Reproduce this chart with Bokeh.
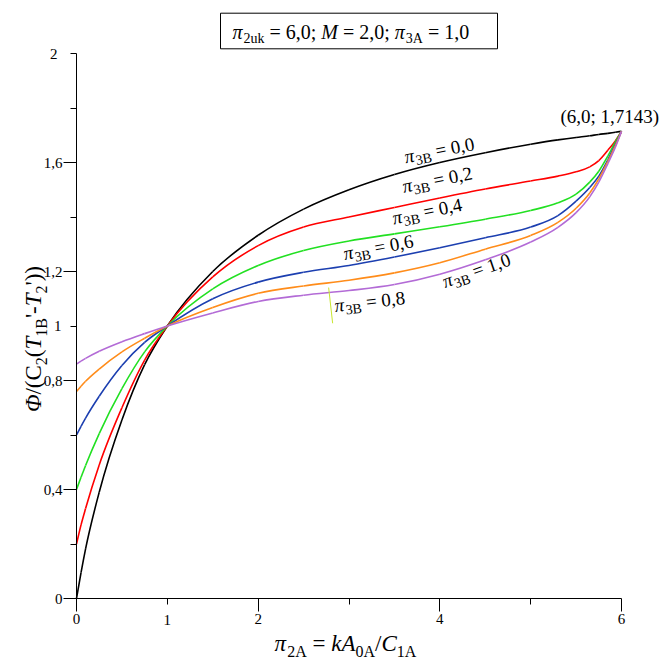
import math
from bokeh.plotting import figure
from bokeh.models import Label, FixedTicker, BoxAnnotation, Range1d, CustomJSTickFormatter
from bokeh.embed import file_html
from bokeh.resources import INLINE

# ---------------- data ----------------
x_vals = [0, 0.05, 0.1, 0.25, 0.5, 0.75, 1, 1.5, 2, 2.5, 3, 3.5, 4, 4.5, 5,
          5.3, 5.5, 5.65, 5.75, 5.85, 5.93, 6]
pi3b_00 = [0, 0.095, 0.182, 0.39, 0.655, 0.858, 1.0, 1.2, 1.333, 1.429, 1.5, 1.556,
           1.6, 1.636, 1.667, 1.683, 1.692, 1.698, 1.703, 1.707, 1.711, 1.7143]
pi3b_02 = [0.2, 0.27, 0.33, 0.49, 0.70, 0.875, 1.0, 1.18, 1.295, 1.363, 1.40, 1.435,
           1.47, 1.503, 1.532, 1.55, 1.566, 1.584, 1.607, 1.645, 1.678, 1.7143]
pi3b_04 = [0.4, 0.445, 0.488, 0.605, 0.77, 0.905, 1.0, 1.136, 1.222, 1.277, 1.312, 1.338,
           1.364, 1.392, 1.424, 1.452, 1.484, 1.528, 1.568, 1.624, 1.674, 1.7143]
pi3b_06 = [0.6, 0.632, 0.662, 0.742, 0.855, 0.94, 1.0, 1.10, 1.161, 1.197, 1.222, 1.253,
           1.287, 1.324, 1.363, 1.405, 1.458, 1.508, 1.55, 1.61, 1.665, 1.7143]
pi3b_08 = [0.76, 0.779, 0.797, 0.842, 0.905, 0.955, 1.0, 1.068, 1.12, 1.147, 1.168, 1.195,
           1.232, 1.282, 1.332, 1.38, 1.432, 1.488, 1.54, 1.604, 1.66, 1.7143]
pi3b_10 = [0.86, 0.871, 0.881, 0.907, 0.942, 0.972, 1.0, 1.048, 1.09, 1.113, 1.13, 1.152,
           1.19, 1.243, 1.308, 1.362, 1.416, 1.474, 1.528, 1.596, 1.654, 1.7143]
series_names = ["0,0", "0,2", "0,4", "0,6", "0,8", "1,0"]
series_values = [pi3b_00, pi3b_02, pi3b_04, pi3b_06, pi3b_08, pi3b_10]
series_colors = ["#000000", "#ff0000", "#22e022", "#1c3fb0", "#ff8c1a", "#b36bd6"]

x_major_ticks = [0, 2, 4, 6]
x_minor_ticks = [1, 3, 5]
y_major_ticks = [0, 0.4, 0.8, 1.2, 1.6]
y_minor_ticks = [0.2, 0.6, 1.0, 1.4, 1.8, 2.0]

end_point_text = "(6,0; 1,7143)"
leader_x = [2.776, 2.82]
leader_y = [1.141, 1.01]

# ---------------- layout ----------------
FONT = "Liberation Serif"
W_PX, H_PX = 667, 659
FW, FH = 545, 545
XS, YS = FW / 6.0, FH / 2.0
L0, T0 = 76, 53  # data-area corner in canvas pixels
MID = 0.34       # distance baseline -> "middle" anchor, in em


def dx(px):
    return (px - L0) / XS


def dy(py):
    return (T0 + FH - py) / YS


REG = {' ': 0.25, ',': 0.25, ';': 0.278, '=': 0.564, '(': 0.333, ')': 0.333,
       '-': 0.333, '/': 0.278, "'": 0.18, 'A': 0.722, 'B': 0.667, 'C': 0.667,
       'M': 0.889, 'T': 0.611, 'k': 0.5, 'u': 0.5, 'π': 0.55, 'Φ': 0.76}
for _d in "0123456789":
    REG[_d] = 0.5
ITA = {'A': 0.611, 'C': 0.667, 'M': 0.833, 'T': 0.556, 'k': 0.444, 'Φ': 0.76, 'π': 0.55}


def rich(p, segs, ax, ay, F, S, d, angle=0.0, align="center", color="black"):
    """Text made of runs (regular / italic / subscript); (ax, ay) is on the baseline."""
    a = math.radians(angle)
    info = []
    for t, k in segs:
        size = S if k.startswith('s') else F
        tab = ITA if 'i' in k else REG
        w = sum(tab.get(c, REG.get(c, 0.5)) for c in t) * size
        info.append((t, k, size, w))
    W = sum(i[3] for i in info)
    s = {"center": -W / 2.0, "left": 0.0, "right": -W}[align]
    for t, k, size, w in info:
        lead = len(t) - len(t.lstrip())
        txt = t.strip()
        s0 = s + lead * 0.25 * size
        up = (-d if k.startswith('s') else 0.0) + MID * size
        xo = s0 * math.cos(a) - up * math.sin(a)
        yo = s0 * math.sin(a) + up * math.cos(a)
        if txt:
            p.add_layout(Label(x=ax, y=ay, x_offset=xo, y_offset=yo, text=txt, angle=a,
                               text_font=FONT, text_font_size=f"{size}px",
                               text_font_style="italic" if 'i' in k else "normal",
                               text_align="left", text_baseline="middle",
                               text_color=color))
        s += w


def smooth_segments(xs, ys):
    """Cubic Hermite pieces between the read points, as bezier control points."""
    n = len(xs)
    h = [xs[i + 1] - xs[i] for i in range(n - 1)]
    dl = [(ys[i + 1] - ys[i]) / h[i] for i in range(n - 1)]
    m = [0.0] * n
    m[0], m[-1] = dl[0], dl[-1]
    for i in range(1, n - 1):
        m[i] = (dl[i - 1] * h[i] + dl[i] * h[i - 1]) / (h[i - 1] + h[i])
    out = dict(x0=[], y0=[], x1=[], y1=[], cx0=[], cy0=[], cx1=[], cy1=[])
    for i in range(n - 1):
        out["x0"].append(xs[i]); out["y0"].append(ys[i])
        out["x1"].append(xs[i + 1]); out["y1"].append(ys[i + 1])
        out["cx0"].append(xs[i] + h[i] / 3); out["cy0"].append(ys[i] + m[i] * h[i] / 3)
        out["cx1"].append(xs[i + 1] - h[i] / 3); out["cy1"].append(ys[i + 1] - m[i + 1] * h[i] / 3)
    return out


p = figure(width=W_PX, height=H_PX, output_backend="svg", toolbar_location=None,
           x_range=Range1d(dx(0), dx(W_PX)), y_range=Range1d(dy(H_PX), dy(0)),
           min_border=0, min_border_left=0, min_border_right=0,
           min_border_top=0, min_border_bottom=0)
p.outline_line_color = None
p.xgrid.visible = False
p.ygrid.visible = False
p.background_fill_color = "white"
p.border_fill_color = "white"

fmt = CustomJSTickFormatter(code="return tick.toString().replace('.', ',');")
for ax in (p.xaxis[0], p.yaxis[0]):
    ax.formatter = fmt
    ax.fixed_location = 0
    ax.axis_line_color = "black"
    ax.major_tick_line_color = "black"
    ax.minor_tick_line_color = "black"
    ax.major_tick_in = 0
    ax.major_tick_out = 13
    ax.minor_tick_in = 0
    ax.minor_tick_out = 6
    ax.major_label_text_font = FONT
    ax.major_label_text_font_size = "15px"
    ax.major_label_text_color = "black"
p.xaxis[0].bounds = (0, 6)
p.yaxis[0].bounds = (0, 2)
p.xaxis[0].ticker = FixedTicker(ticks=x_major_ticks, minor_ticks=x_minor_ticks)
p.yaxis[0].ticker = FixedTicker(ticks=y_major_ticks, minor_ticks=y_minor_ticks)
p.xaxis[0].major_label_standoff = 2
p.yaxis[0].major_label_standoff = 1

for vals, col in zip(series_values, series_colors):
    seg = smooth_segments(x_vals, vals)
    p.bezier(seg["x0"], seg["y0"], seg["x1"], seg["y1"], seg["cx0"], seg["cy0"],
             seg["cx1"], seg["cy1"], line_color=col, line_width=1.6)

p.line(leader_x, leader_y, line_color="#c8e62d", line_width=1)

# labels on minor ticks "1" (x), "1" and "2" (y)
p.add_layout(Label(x=1, y=dy(625), y_offset=MID * 15, text="1", text_font=FONT,
                   text_font_size="15px", text_align="center", text_baseline="middle",
                   text_color="black"))
p.add_layout(Label(x=dx(61), y=1, text="1", text_font=FONT, text_font_size="15px",
                   text_align="right", text_baseline="middle", text_color="black"))
p.add_layout(Label(x=dx(57), y=2, text="2", text_font=FONT, text_font_size="15px",
                   text_align="right", text_baseline="middle", text_color="black"))

# curve labels: (center px, baseline py, angle)
curve_label_pos = [(440, 156, 10.9), (438, 185.5, 11.1), (428, 217, 11.4),
                   (379, 253, 10.5), (370, 307.5, 6.5), (478, 276, 19.0)]
for name, (cx, cy, ang) in zip(series_names, curve_label_pos):
    rich(p, [("π", 'i'), ("3B", 's'), (" = " + name, 'r')], dx(cx), dy(cy),
         19, 14, 4, angle=ang, align="center")

# end point annotation
p.add_layout(Label(x=dx(560), y=dy(122), y_offset=MID * 19, text=end_point_text,
                   text_font=FONT, text_font_size="19px", text_align="left",
                   text_baseline="middle", text_color="black"))

# title box
p.add_layout(BoxAnnotation(left=dx(220), right=dx(497), top=dy(12.7), bottom=dy(48.3),
                           fill_alpha=0, line_color="black", line_width=1, line_alpha=1))
rich(p, [("π", 'i'), ("2uk", 's'), (" = 6,0; ", 'r'), ("M", 'i'), (" = 2,0; ", 'r'),
         ("π", 'i'), ("3A", 's'), (" = 1,0", 'r')], dx(232), dy(38.5), 20, 14, 4,
     align="left")

# axis titles
rich(p, [("π", 'i'), ("2A", 's'), (" = ", 'r'), ("k", 'i'), ("A", 'i'), ("0A", 's'),
         ("/", 'r'), ("C", 'i'), ("1A", 's')], dx(345), dy(651), 23, 16, 5, align="center")
rich(p, [("Φ", 'i'), ("/(", 'r'), ("C", 'r'), ("2", 's'), ("(", 'r'), ("T", 'i'),
         ("1B", 's'), ("'-", 'r'), ("T", 'i'), ("2", 's'), ("'))", 'r')],
     dx(41), dy(338.5), 23, 16, 5, angle=90, align="center")

open("out.html", "w").write(file_html(p, INLINE))
